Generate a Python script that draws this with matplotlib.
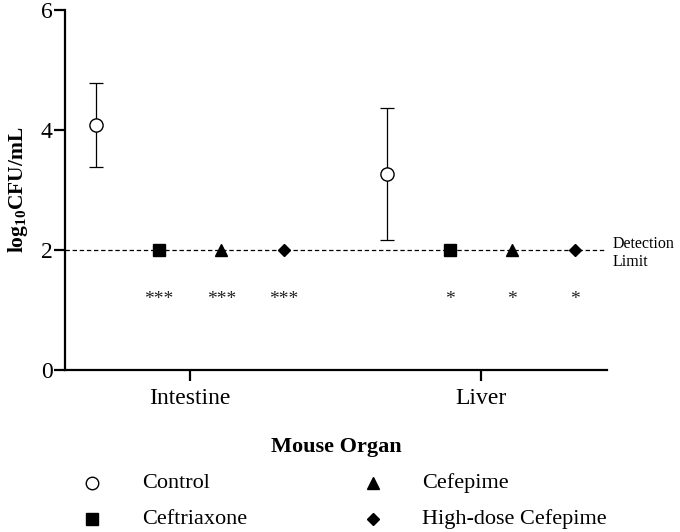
import matplotlib
matplotlib.use("Agg")
import matplotlib.pyplot as plt
from matplotlib.lines import Line2D
import numpy as np

# ---- data ----
organs = ["Intestine", "Liver"]
treatments = ["Control", "Ceftriaxone", "Cefepime", "High-dose Cefepime"]
control_mean = [4.08, 3.26]
control_sd = [0.70, 1.10]
ceftriaxone = [2.0, 2.0]
cefepime = [2.0, 2.0]
high_dose_cefepime = [2.0, 2.0]
significance = [["***", "***", "***"], ["*", "*", "*"]]
detection_limit = 2.0
y_ticks = [0, 2, 4, 6]

plt.rcParams["font.family"] = ["Liberation Serif", "DejaVu Serif"]
plt.rcParams["mathtext.fontset"] = "custom"
plt.rcParams["mathtext.rm"] = "Liberation Serif"
plt.rcParams["mathtext.bf"] = "Liberation Serif:bold"
plt.rcParams["mathtext.it"] = "Liberation Serif:italic"

fig = plt.figure(figsize=(6.8, 5.32), dpi=100)
W, H = 680, 532
ax = fig.add_axes([65 / W, 1 - 370 / H, (607 - 65) / W, (370 - 10) / H])

base = np.arange(1, len(organs) + 1)
step = 0.2145
offsets = (np.arange(len(treatments)) - 1.5) * step

styles = [
    dict(marker="o", mfc="white", mec="black", ms=9.5, mew=1.0),
    dict(marker="s", mfc="black", mec="black", ms=9),
    dict(marker="^", mfc="black", mec="black", ms=9),
    dict(marker="D", mfc="black", mec="black", ms=6.5),
]

# detection limit line
ax.axhline(detection_limit, color="black", lw=0.9, ls=(0, (3.5, 2.2)), zorder=1)

# control with error bars
ax.errorbar(base + offsets[0], control_mean, yerr=control_sd, fmt="none",
            ecolor="black", elinewidth=0.9, capsize=4.8, capthick=0.9, zorder=2)
ax.plot(base + offsets[0], control_mean, ls="none", zorder=3, **styles[0])

series = [ceftriaxone, cefepime, high_dose_cefepime]
for i, vals in enumerate(series, start=1):
    ax.plot(base + offsets[i], vals, ls="none", zorder=3, clip_on=False, **styles[i])

# significance stars
for g in range(len(organs)):
    for j, s in enumerate(significance[g]):
        ax.text(base[g] + offsets[j + 1], 1.17, s, ha="center", va="center",
                fontsize=14, color="#222222")

ax.text(1.010, detection_limit - 0.05, "Detection\nLimit", transform=ax.get_yaxis_transform(),
        ha="left", va="center", fontsize=11.5, linespacing=1.25)

ax.set_xlim(0.5704, 2.433)
ax.set_ylim(0, 6)
ax.set_xticks(base)
ax.set_xticklabels(organs, fontsize=17)
ax.set_yticks(y_ticks)
ax.set_yticklabels([str(t) for t in y_ticks], fontsize=17)
for s in ["top", "right"]:
    ax.spines[s].set_visible(False)
for s in ["left", "bottom"]:
    ax.spines[s].set_linewidth(1.6)
ax.tick_params(axis="y", length=8, width=1.6, pad=1)
ax.tick_params(axis="x", length=8, width=1.6, pad=5)

ax.set_ylabel(r"$\mathbf{log_{10}CFU/mL}$", fontsize=15.5, labelpad=8)
ax.set_xlabel("Mouse Organ", fontsize=16, fontweight="bold", labelpad=20)

# legend (manual layout)
leg_pos = [(92, 483), (92, 519), (373, 483), (373, 519)]
text_x = [142, 142, 422, 422]
leg_ms = [9, 8.5, 8, 6]
for k, name in enumerate(treatments):
    px, py = leg_pos[k]
    st = dict(styles[k])
    st["ms"] = leg_ms[k]
    fig.add_artist(Line2D([px / W], [1 - py / H], transform=fig.transFigure,
                          ls="none", **st))
    fig.text(text_x[k] / W, 1 - py / H, name, ha="left", va="center", fontsize=16)

fig.savefig("out.png", dpi=100)
